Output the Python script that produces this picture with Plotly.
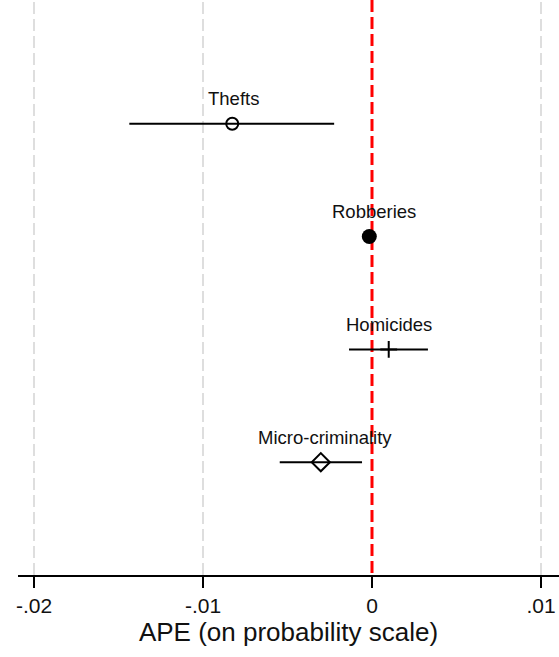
import plotly.graph_objects as go

# Average partial effects (probability scale) with 95% confidence bounds
crimes = ["Thefts", "Robberies", "Homicides", "Micro-criminality"]
ape = [-0.00827, -0.00016, 0.00099, -0.00303]
ci_low = [-0.01436, -0.00032, -0.00136, -0.00546]
ci_high = [-0.00224, 0.00000, 0.00331, -0.00059]

tick_vals = [-0.02, -0.01, 0.0, 0.01]
tick_text = ["-.02", "-.01", "0", ".01"]

rows = [1, 2, 3, 4]
styles = [
    dict(symbol="circle-open", size=12, line=dict(width=2, color="black"), color="black"),
    dict(symbol="circle", size=15, color="black", line=dict(width=0)),
    dict(symbol="cross-thin-open", size=12, line=dict(width=2, color="black"), color="black"),
    dict(symbol="diamond-open", size=14, line=dict(width=2, color="black"), color="black"),
]
label_shift = [1, 5, 0, 4.5]
FONT = "Liberation Sans, Arial"

fig = go.Figure()

# light dashed vertical grid at the non-zero ticks
for tv in tick_vals:
    if tv != 0:
        fig.add_shape(type="line", x0=tv, x1=tv, y0=0, y1=1, xref="x", yref="paper",
                      line=dict(color="#d4d4d4", width=1.5, dash="12px,5px"), layer="below")

# zero reference line
fig.add_trace(go.Scatter(
    x=[0, 0], y=[-0.097, 5], mode="lines",
    line=dict(color="#ff0000", width=3, dash="12px,5px"),
    showlegend=False, hoverinfo="skip",
))

for i, name in enumerate(crimes):
    fig.add_trace(go.Scatter(
        x=[ape[i]], y=[rows[i]], mode="markers",
        marker=styles[i],
        error_x=dict(type="data", symmetric=False,
                     array=[ci_high[i] - ape[i]], arrayminus=[ape[i] - ci_low[i]],
                     color="black", thickness=2, width=0),
        showlegend=False, hoverinfo="skip",
    ))
    fig.add_annotation(x=ape[i], y=rows[i], text=name, showarrow=False,
                       xshift=label_shift[i], yshift=25,
                       font=dict(family=FONT, size=18.5, color="#111111"))

fig.update_layout(
    width=559, height=657,
    margin=dict(l=18, r=0, t=0, b=82),
    plot_bgcolor="white", paper_bgcolor="white",
    xaxis=dict(
        range=[-0.020947, 0.011065],
        tickvals=tick_vals, ticktext=tick_text,
        ticks="outside", ticklen=11, tickwidth=1.5, tickcolor="black",
        showline=True, linecolor="black", linewidth=1.5,
        showgrid=False, zeroline=False,
        tickfont=dict(family=FONT, size=21, color="#111111"),
        title=dict(text="APE (on probability scale)", standoff=7,
                   font=dict(family=FONT, size=26, color="#111111")),
    ),
    yaxis=dict(range=[5, -0.097], visible=False, showgrid=False, zeroline=False),
)

fig.write_html("out.html")
